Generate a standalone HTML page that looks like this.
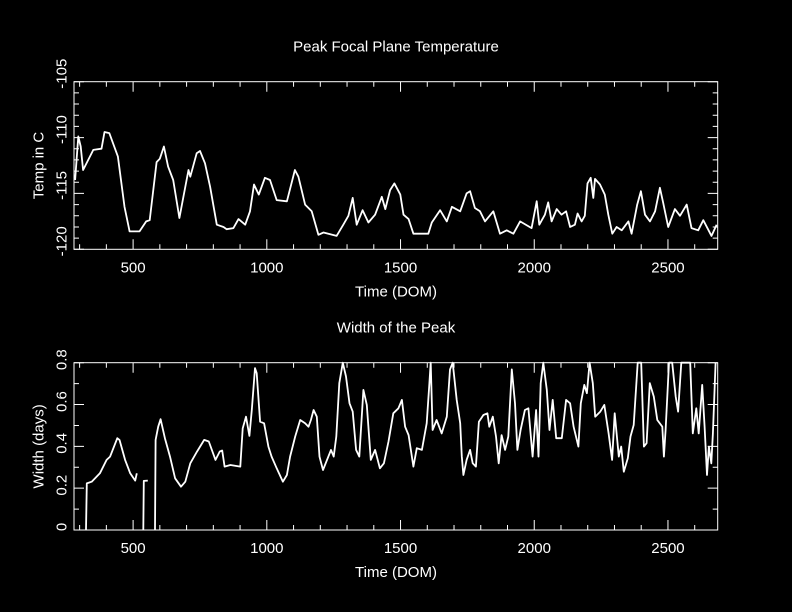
<!DOCTYPE html>
<html><head><meta charset="utf-8"><style>
html,body{margin:0;padding:0;background:#000;}
svg{display:block;}
text{font-family:"Liberation Sans",sans-serif;font-size:15px;fill:#fff;}
</style></head><body>
<svg id="chart" width="792" height="612" viewBox="0 0 792 612">
<rect x="0" y="0" width="792" height="612" fill="#000"/>
</svg>
<script>
// ---- data ----
const tempDom = [283,295,304,313,351,382,393,411,443,468,487,524,549,562,588,600,615,631,650,673,688,707,714,738,750,769,788,813,838,850,875,894,919,937,952,970,993,1012,1037,1075,1105,1118,1143,1168,1193,1212,1261,1286,1305,1321,1336,1358,1380,1405,1430,1443,1461,1477,1499,1511,1530,1548,1604,1617,1648,1673,1692,1723,1747,1760,1778,1797,1816,1847,1872,1897,1922,1947,1990,2009,2019,2040,2052,2065,2084,2102,2119,2134,2152,2162,2177,2189,2199,2211,2221,2227,2246,2264,2277,2292,2308,2327,2352,2364,2385,2399,2414,2433,2452,2470,2482,2501,2526,2545,2570,2588,2613,2632,2663,2682];
const tempVal = [-113.8,-109.9,-110.8,-112.9,-111.1,-111,-109.5,-109.6,-111.7,-116.2,-118.4,-118.4,-117.5,-117.4,-112.2,-111.9,-110.8,-112.6,-113.8,-117.2,-115.3,-112.9,-113.5,-111.4,-111.2,-112.3,-114.4,-117.8,-118,-118.2,-118.1,-117.3,-117.8,-116.6,-114.2,-115.1,-113.6,-113.8,-115.6,-115.7,-112.9,-113.5,-116,-116.6,-118.7,-118.5,-118.8,-117.8,-117,-115.4,-117.8,-116.5,-117.6,-116.9,-115.3,-116.4,-114.7,-114.1,-115.1,-116.9,-117.3,-118.6,-118.6,-117.6,-116.5,-117.5,-116.2,-116.6,-115,-114.8,-116.3,-116.6,-117.5,-116.6,-118.6,-118.3,-118.6,-117.5,-118.1,-115.7,-117.8,-116.9,-115.8,-117.5,-116.4,-116.9,-116.6,-118,-117.8,-116.8,-117.5,-117,-114.1,-113.6,-115.4,-113.7,-114.2,-115.1,-116.9,-118.6,-118,-118.3,-117.5,-118.6,-116,-114.8,-116.9,-117.5,-116.6,-114.5,-115.8,-118,-116.4,-117,-116,-118.1,-118.3,-117.4,-118.8,-117.8];
// width series: null separates segments
const widthDom = [324,327,345,376,401,414,441,449,470,489,508,514,null,538,540,555,null,582,584,594,603,619,638,657,679,695,714,739,766,783,808,824,833,842,864,901,910,922,935,944,956,962,975,990,1006,1018,1037,1060,1075,1087,1106,1125,1143,1156,1165,1175,1187,1197,1210,1225,1240,1250,1260,1271,1284,1296,1309,1321,1334,1346,1361,1374,1389,1405,1423,1438,1455,1473,1492,1505,1517,1530,1548,1561,1580,1598,1608,1613,1620,1635,1654,1673,1685,1695,1710,1723,1729,1735,1747,1760,1770,1782,1793,1810,1825,1832,1845,1857,1867,1878,1891,1903,1916,1928,1937,1949,1965,1978,1994,2007,2016,2024,2034,2047,2057,2069,2082,2103,2119,2134,2147,2165,2174,2187,2197,2207,2219,2228,2247,2262,2278,2291,2301,2316,2325,2335,2350,2360,2372,2387,2400,2410,2420,2432,2447,2460,2479,2485,2491,2504,2516,2529,2538,2550,2583,2593,2606,2615,2628,2637,2646,2653,2662,2668,2678];
const widthVal = [0,0.223,0.231,0.271,0.335,0.351,0.439,0.431,0.335,0.271,0.236,0.271,null,0,0.235,0.236,null,0,0.431,0.494,0.53,0.439,0.351,0.247,0.207,0.231,0.319,0.375,0.431,0.423,0.335,0.375,0.38,0.303,0.311,0.303,0.486,0.542,0.45,0.574,0.774,0.75,0.518,0.51,0.399,0.351,0.295,0.231,0.263,0.351,0.447,0.526,0.51,0.494,0.526,0.574,0.542,0.351,0.287,0.335,0.383,0.351,0.447,0.702,0.8,0.734,0.606,0.566,0.383,0.351,0.67,0.598,0.335,0.383,0.295,0.319,0.423,0.558,0.582,0.622,0.494,0.454,0.303,0.391,0.383,0.51,0.702,0.8,0.478,0.526,0.462,0.542,0.768,0.8,0.622,0.51,0.351,0.263,0.335,0.383,0.319,0.303,0.518,0.55,0.558,0.494,0.542,0.447,0.319,0.454,0.383,0.447,0.768,0.606,0.383,0.478,0.574,0.582,0.351,0.574,0.351,0.702,0.8,0.67,0.478,0.622,0.439,0.439,0.622,0.606,0.494,0.399,0.606,0.694,0.654,0.8,0.702,0.542,0.566,0.598,0.462,0.335,0.558,0.351,0.399,0.279,0.343,0.447,0.502,0.8,0.8,0.399,0.415,0.702,0.638,0.526,0.494,0.351,0.478,0.8,0.8,0.638,0.566,0.8,0.8,0.462,0.582,0.462,0.694,0.494,0.263,0.399,0.319,0.462,0.8];
const xTickLabels = [500,1000,1500,2000,2500];
const tempTickLabels = [-105,-110,-115,-120];
const widthTickLabels = [0,0.2,0.4,0.6,0.8];

const NS = "http://www.w3.org/2000/svg";
const svg = document.getElementById('chart');
const X0 = 74, X1 = 717.7, DMIN = 279, DMAX = 2686;
function xs(d){ return X0 + (d - DMIN) / (DMAX - DMIN) * (X1 - X0); }
function mk(tag, attrs, parent){
  const e = document.createElementNS(NS, tag);
  for (const k in attrs) e.setAttribute(k, attrs[k]);
  (parent || svg).appendChild(e);
  return e;
}

function panel(opt){
  const g = mk('g', {});
  
  
  const ys = v => opt.yTop + (opt.vMax - v) / (opt.vMax - opt.vMin) * (opt.yBot - opt.yTop);
  const fr = mk('rect', {x:X0, y:opt.yTop, width:X1-X0, height:opt.yBot-opt.yTop, fill:'none', stroke:'#fff', 'stroke-width':1}, g);
  
  
  let p = '';
  for (let d = 300; d <= DMAX; d += 100){
    const x = xs(d), L = (d % 500 === 0) ? 10 : 5;
    p += `M${x},${opt.yBot}v${-L}M${x},${opt.yTop}v${L}`;
  }
  for (let v = opt.vMin; v <= opt.vMax + 1e-9; v += opt.minor){
    const y = ys(v);
    const isMaj = Math.abs(Math.round(v / opt.major) * opt.major - v) < 1e-6;
    const L = isMaj ? 10 : 5;
    p += `M${X0},${y}h${L}M${X1},${y}h${-L}`;
  }
  const t = mk('path', {d:p, stroke:'#fff', 'stroke-width':1, fill:'none'}, g);
  
  
  xTickLabels.forEach(d => {
    const tx = mk('text', {x:xs(d), y:opt.yBot+23, 'text-anchor':'middle'}, g);
    tx.textContent = d;
    
    
  });
  opt.yLabels.forEach(v => {
    const y = ys(v) + opt.yLabOff, x = 62;
    const tx = mk('text', {x:x, y:y, 'text-anchor':'middle', 'dominant-baseline':'central', transform:`rotate(-90 ${x} ${y})`}, g);
    tx.textContent = v;
    
    
  });
  const ti = mk('text', {x:396, y:opt.yTop-30, 'text-anchor':'middle'}, g);
  ti.textContent = opt.title;
  
  
  const xt = mk('text', {x:396, y:opt.yBot+47, 'text-anchor':'middle'}, g);
  xt.textContent = 'Time (DOM)';
  
  
  const yc = (opt.yTop + opt.yBot) / 2;
  const yt = mk('text', {x:39, y:yc, 'text-anchor':'middle', 'dominant-baseline':'central', transform:`rotate(-90 39 ${yc})`}, g);
  yt.textContent = opt.ytitle;
  
  
  let dd = '', pen = false;
  for (let i = 0; i < opt.xd.length; i++){
    if (opt.xd[i] === null || opt.yv[i] === null){ pen = false; continue; }
    const v = Math.max(opt.vMin, Math.min(opt.vMax, opt.yv[i]));
    dd += (pen ? 'L' : 'M') + xs(opt.xd[i]).toFixed(1) + ',' + ys(v).toFixed(1);
    pen = true;
  }
  const ln = mk('path', {d:dd, stroke:'#fff', 'stroke-width':1.8, fill:'none', 'stroke-linejoin':'round'}, g);
  
  
}

panel({name:'temperature-panel', yTop:81.7, yBot:249.3, vMin:-120, vMax:-105, minor:1, major:5,
  yLabels:tempTickLabels, yLabOff:-8, title:'Peak Focal Plane Temperature', ytitle:'Temp in C',
  xd:tempDom, yv:tempVal, lineName:'temperature-line'});
panel({name:'width-panel', yTop:362.7, yBot:530, vMin:0, vMax:0.8, minor:0.1, major:0.2,
  yLabels:widthTickLabels, yLabOff:-3, title:'Width of the Peak', ytitle:'Width (days)',
  xd:widthDom, yv:widthVal, lineName:'width-line'});
</script>
</body></html>
